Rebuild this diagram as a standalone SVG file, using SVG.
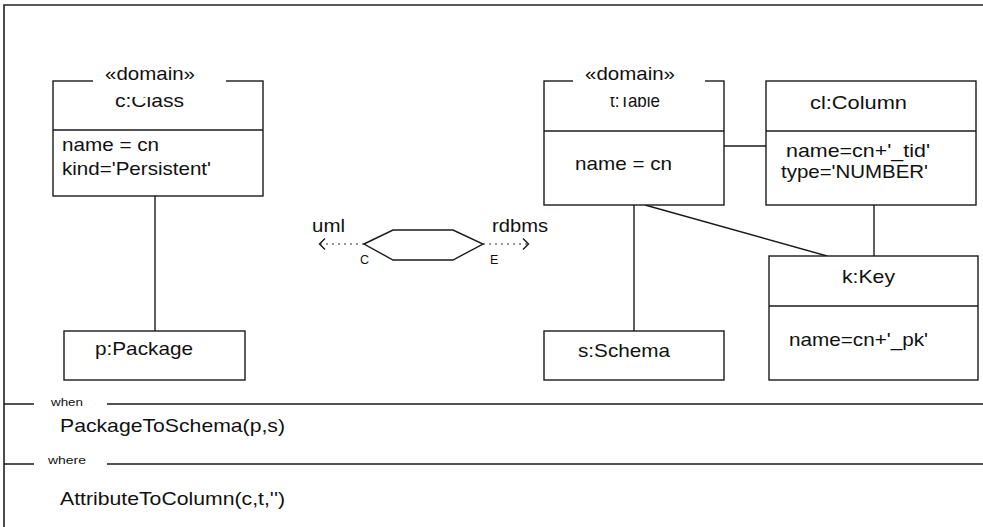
<svg xmlns="http://www.w3.org/2000/svg" width="983" height="527" viewBox="0 0 983 527">
<style>
.bx{fill:#fff;stroke:#1a1a1a;stroke-width:1.4}
.ln{fill:none;stroke:#1a1a1a;stroke-width:1.4}
.fr{fill:none;stroke:#222;stroke-width:1.6}
.t{font-family:"Liberation Sans",Arial,sans-serif;font-size:19px;fill:#111}
.s{font-family:"Liberation Sans",Arial,sans-serif;font-size:11px;fill:#111}
.dot{fill:none;stroke:#333;stroke-width:1.2;stroke-dasharray:2,4}
</style>
<rect width="983" height="527" fill="#fff"/>
<g id="frame">
<path class="fr" d="M4,527 V5 H983"/>
<path class="ln" d="M4,404 H34 M107,404 H983 M4,464 H34 M107,464 H983"/>
<text class="s" x="51" y="406" textLength="32" lengthAdjust="spacingAndGlyphs">when</text>
<text class="t" x="60" y="432" textLength="225" lengthAdjust="spacingAndGlyphs">PackageToSchema(p,s)</text>
<text class="s" x="48" y="464" textLength="38" lengthAdjust="spacingAndGlyphs">where</text>
<text class="t" x="60" y="505" textLength="225" lengthAdjust="spacingAndGlyphs">AttributeToColumn(c,t,'')</text>
</g>
<g id="connectors">
<path class="ln" d="M155,196 V331"/>
<path class="ln" d="M724,146 H766"/>
<path class="ln" d="M634,205 V331"/>
<path class="ln" d="M645,205 L827,256"/>
<path class="ln" d="M874,205 V256"/>
<path class="dot" d="M364,244 H320 M483,244 H529"/>
<path class="ln" d="M325,238.5 L319.5,244 L325,249.5 M523,238.5 L528.5,244 L523,249.5" stroke-width="1.2"/>
</g>
<g id="class">
<rect class="bx" x="53" y="81" width="210" height="115"/>
<path class="ln" d="M53,130 H263"/>
<text class="t" x="115" y="107" textLength="69" lengthAdjust="spacingAndGlyphs">c:Class</text>
<rect x="93" y="70" width="133" height="27" fill="#fff"/>
<text class="t" x="105" y="80" textLength="90" lengthAdjust="spacingAndGlyphs">«domain»</text>
<text class="t" x="62" y="151" textLength="97" lengthAdjust="spacingAndGlyphs">name = cn</text>
<text class="t" x="62" y="175" textLength="149" lengthAdjust="spacingAndGlyphs">kind='Persistent'</text>
</g>
<g id="package">
<rect class="bx" x="64" y="331" width="181" height="49"/>
<text class="t" x="95" y="355" textLength="98" lengthAdjust="spacingAndGlyphs">p:Package</text>
</g>
<g id="relation">
<polygon class="ln" points="364,244 393,230 453,230 483,244 453,260 393,260"/>
<text class="t" x="312" y="232" textLength="33" lengthAdjust="spacingAndGlyphs">uml</text>
<text class="t" x="492" y="232" textLength="56" lengthAdjust="spacingAndGlyphs">rdbms</text>
<text class="s" x="360" y="264" style="font-size:12.5px">C</text>
<text class="s" x="490" y="264" style="font-size:12.5px">E</text>
</g>
<g id="table">
<rect class="bx" x="544" y="81" width="180" height="124"/>
<path class="ln" d="M544,131 H724"/>
<text class="t" x="610" y="107" textLength="50" lengthAdjust="spacingAndGlyphs">t:Table</text>
<rect x="573" y="70" width="132" height="27" fill="#fff"/>
<text class="t" x="585" y="80" textLength="90" lengthAdjust="spacingAndGlyphs">«domain»</text>
<text class="t" x="575" y="170" textLength="97" lengthAdjust="spacingAndGlyphs">name = cn</text>
</g>
<g id="column">
<rect class="bx" x="766" y="81" width="210" height="124"/>
<path class="ln" d="M766,131 H976"/>
<text class="t" x="810" y="109" textLength="97" lengthAdjust="spacingAndGlyphs">cl:Column</text>
<text class="t" x="786" y="157" textLength="144" lengthAdjust="spacingAndGlyphs">name=cn+'_tid'</text>
<text class="t" x="781" y="178" textLength="147" lengthAdjust="spacingAndGlyphs">type='NUMBER'</text>
</g>
<g id="key">
<rect class="bx" x="769" y="256" width="209" height="124"/>
<path class="ln" d="M769,306 H978"/>
<text class="t" x="842" y="283" textLength="53" lengthAdjust="spacingAndGlyphs">k:Key</text>
<text class="t" x="789" y="346" textLength="139" lengthAdjust="spacingAndGlyphs">name=cn+'_pk'</text>
</g>
<g id="schema">
<rect class="bx" x="544" y="331" width="180" height="49"/>
<text class="t" x="578" y="357" textLength="92" lengthAdjust="spacingAndGlyphs">s:Schema</text>
</g>
</svg>
